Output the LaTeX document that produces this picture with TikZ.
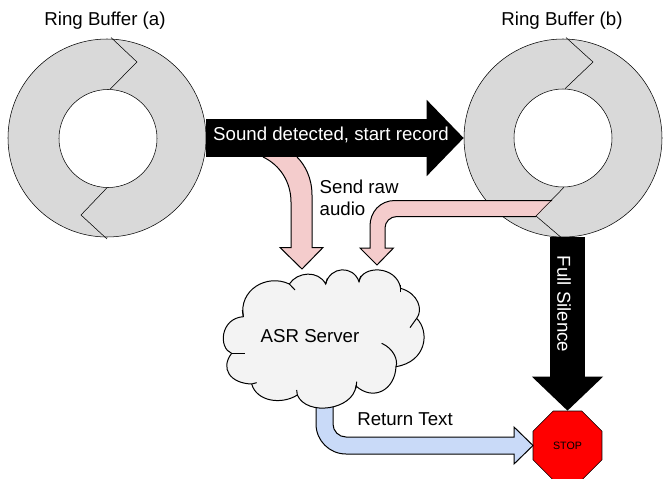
\documentclass[tikz,border=0pt]{standalone}
\usepackage{fontspec}
\setmainfont{Liberation Sans}
\usetikzlibrary{arrows.meta, shapes.geometric}

\definecolor{ringgray}{HTML}{D9D9D9}
\definecolor{sendpink}{HTML}{F4CCCC}
\definecolor{returnblue}{HTML}{C9DAF8}
\definecolor{cloudgray}{HTML}{F3F3F3}

\begin{document}
\begin{tikzpicture}[
  x=0.75pt, y=-0.75pt,
  ring/.style={draw, circle, fill=ringgray, minimum size=148.5pt, inner sep=0pt},
  hole/.style={draw, circle, fill=white, minimum size=73.5pt, inner sep=0pt},
  caption/.style={font=\fontsize{14pt}{16.5pt}\selectfont, align=left},
  bigarrow/.style={black, line width=28.5pt, -{Triangle[length=27.75pt, width=55.5pt]}},
  downarrow/.style={black, line width=26.25pt, -{Triangle[length=25.5pt, width=51.75pt]}},
  blockarrow/.style={draw, line width=0.75pt, line join=miter}
]
  \useasboundingbox (0,0) rectangle (665,479);

  \node[ring] (ringa) at (107,138) {};
  \node[hole] (holea) at (108,138.5) {};
  \node[ring] (ringb) at (563,138) {};
  \node[hole] (holeb) at (563,138) {};
  \node[draw, regular polygon, regular polygon sides=8, minimum size=56pt, inner sep=0pt,
        fill=red, font=\fontsize{8pt}{10pt}\selectfont] (stop) at (567.5,445.5) {STOP};

  % pink arrows go under the black one
  \path[blockarrow, fill=sendpink] (263,157) .. controls (280,165) and (291,182) .. (291,202)
    -- (291,247.5) -- (280,247.5) -- (302,269) -- (323,247.5) -- (312,247.5) -- (312,195)
    .. controls (312,178) and (305,165) .. (297,157);
  \fill[sendpink] (552,200.5) -- (395,200.5) -- (395,217) -- (536,216.5) -- cycle;
  \path[blockarrow, fill=sendpink] (552,200.5) -- (395,200.5) .. controls (380,200.5) and (370,212) .. (370,226)
    -- (370,248) -- (360,248) -- (377,265) -- (393.5,248) -- (385,248) -- (385,228)
    .. controls (385,222) and (390,216.5) .. (397,216.5) -- (536,216.5);

  \draw[bigarrow] (ringa) -- (ringb);
  \draw[downarrow] (ringb.south -| stop.north) -- (stop.north);

  % zigzag seams of the rings
  \draw (holea.north) ++(2,0) -- (137,62) -- (111,37.5);
  \draw (holea.south) ++(-1,0) -- (81,215) -- (107,239);
  \draw (holeb.north) ++(2,0) -- (593,62) -- (566,37.5);
  \draw (holeb.south) ++(1,0) -- (536,216) -- (563,239);

  \path[blockarrow, fill=returnblue] (316,400) [rounded corners=22.5pt] -- (316,454) [sharp corners]
    -- (514,454) -- (514,464) -- (533,445.5) -- (514,427) -- (514,437) [rounded corners=9.75pt]
    -- (333,437) [sharp corners] -- (333,400);

  % cloud, in 3x px around its corner
  \begin{scope}[shift={(210,260)}, x=0.25pt, y=-0.25pt, line width=0.75pt]
    \draw[fill=cloudgray] (238,72) .. controls (262,35) and (325,30) .. (347,72)
      .. controls (360,18) and (430,15) .. (447,65)
      .. controls (455,15) and (560,15) .. (572,85)
      .. controls (625,100) and (640,150) .. (620,175)
      .. controls (660,215) and (650,305) .. (558,320)
      .. controls (555,390) and (490,425) .. (438,378)
      .. controls (430,450) and (290,470) .. (262,405)
      .. controls (215,435) and (140,425) .. (125,372)
      .. controls (60,370) and (30,325) .. (65,280)
      .. controls (25,265) and (30,175) .. (100,170)
      .. controls (85,90) and (170,40) .. (238,72) -- cycle;
    \draw (238,72) -- (255,90);
    \draw (347,72) -- (352,55);
    \draw (447,65) -- (452,48);
    \draw (572,97) -- (572,75);
    \draw (620,175) -- (600,203);
    \draw (515,250) .. controls (550,265) and (565,300) .. (558,320);
    \draw (438,385) -- (440,365);
    \draw (262,405) -- (260,390);
    \draw (125,372) -- (140,368);
    \draw (65,280) -- (105,280);
    \draw (100,170) -- (97,150);
  \end{scope}

  \node[caption] (titlea) at (105,21) {Ring Buffer (a)};
  \node[caption] (titleb) at (562,21) {Ring Buffer (b)};
  \node[caption, text=white] (detected) at (331,135) {Sound detected, start record};
  \node[caption, anchor=west] (sendraw) at (315,198) {Send raw\\audio};
  \node[caption] (asr) at (310,336) {ASR Server};
  \node[caption] (returntext) at (405,419) {Return Text};
  \node[caption, text=white, rotate=-90] (silence) at (564,304) {Full Silence};
\end{tikzpicture}
\end{document}
